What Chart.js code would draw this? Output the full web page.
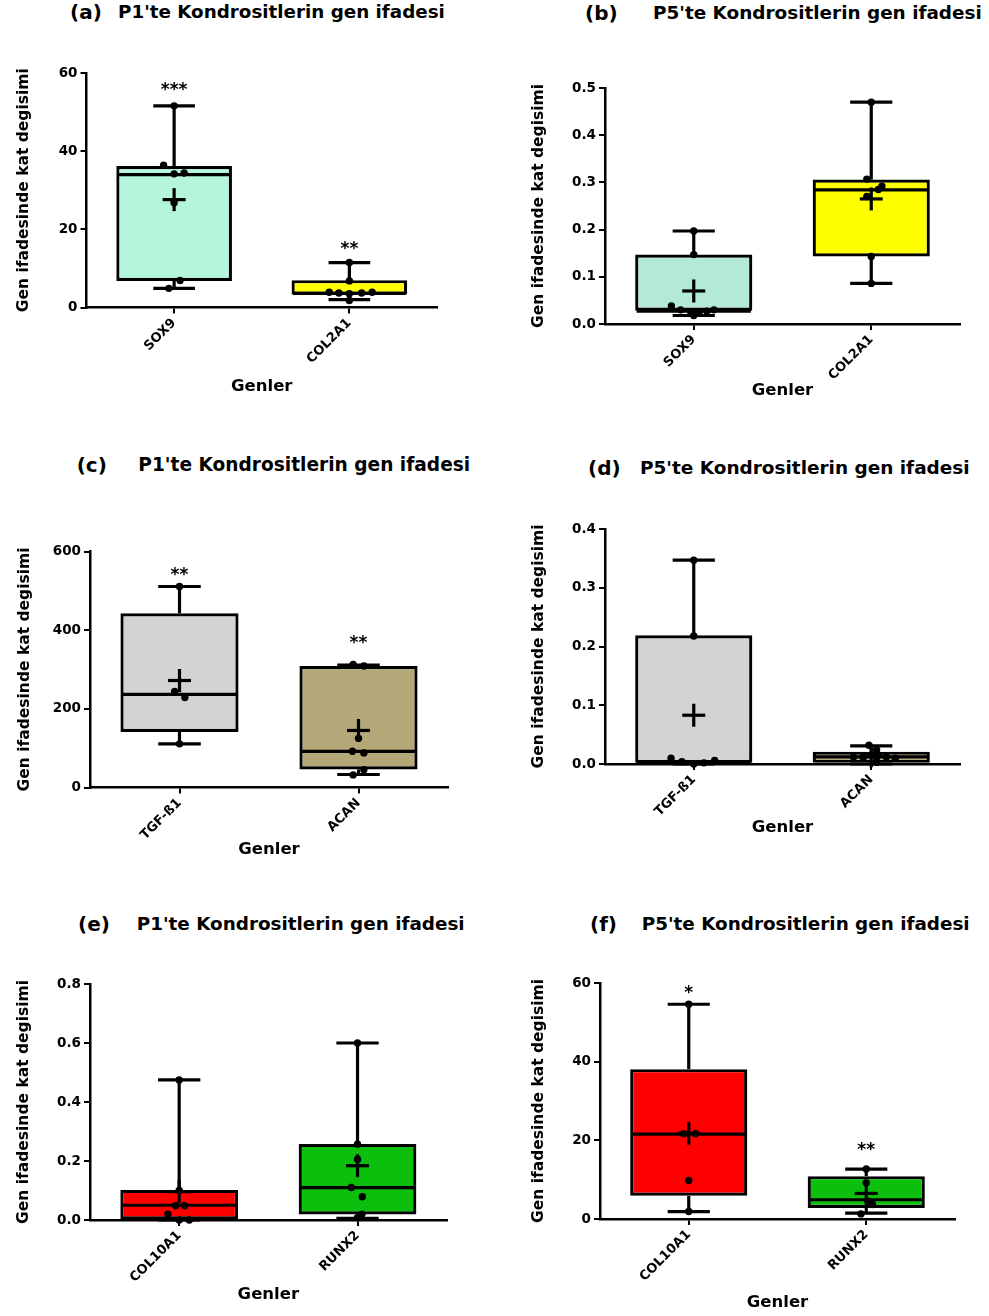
<!DOCTYPE html>
<html><head><meta charset="utf-8">
<script src="https://cdn.jsdelivr.net/npm/chart.js@4.4.1/dist/chart.umd.min.js"></script>
<style>
html,body{margin:0;padding:0;background:#fff;}
body{width:989px;height:1316px;position:relative;overflow:hidden;font-family:'DejaVu Sans',sans-serif;font-weight:bold;color:#000;}
.panel{position:absolute;}
.ttl{position:absolute;white-space:nowrap;line-height:24px;height:24px;font-weight:bold;font-family:'DejaVu Sans',sans-serif;}
</style></head><body>
<script>
// ---------------- DATA ----------------
const genesA = ['SOX9', 'COL2A1'];
const minA = [4.9, 2.0];
const q1A = [6.8, 3.3];
const medianA = [34.0, 3.6];
const q3A = [36.2, 7.0];
const maxA = [51.6, 11.5];
const meanA = [27.6, null];
const ptsA_SOX9 = [51.6, 36.4, 34.2, 34.4, 26.8, 6.9, 4.9];
const ptsA_COL2A1 = [11.5, 6.8, 3.9, 3.7, 3.5, 3.7, 3.9, 1.8];
const starsA = ['***', '**'];

const genesB = ['SOX9', 'COL2A1'];
const minB = [0.018, 0.086];
const q1B = [0.028, 0.143];
const medianB = [0.027, 0.284];
const q3B = [0.147, 0.306];
const maxB = [0.197, 0.47];
const meanB = [0.07, 0.265];
const ptsB_SOX9 = [0.197, 0.147, 0.038, 0.030, 0.026, 0.024, 0.027, 0.030, 0.018];
const ptsB_COL2A1 = [0.47, 0.307, 0.292, 0.285, 0.27, 0.143, 0.086];
const starsB = ['', ''];

const genesC = ['TGF-ß1', 'ACAN'];
const minC = [111, 33];
const q1C = [141, 46];
const medianC = [237, 92];
const q3C = [443, 309];
const maxC = [511, 311];
const meanC = [272, 145];
const ptsC_TGF = [511, 244, 229, 111];
const ptsC_ACAN = [313, 309, 125, 92, 88, 45, 32];
const starsC = ['**', '**'];

const genesD = ['TGF-ß1', 'ACAN'];
const minD = [0, 0];
const q1D = [0.002, 0.002];
const medianD = [0.004, 0.012];
const q3D = [0.219, 0.021];
const maxD = [0.347, 0.031];
const meanD = [0.083, 0.014];
const ptsD_TGF = [0.347, 0.218, 0.01, 0.004, 0.0, 0.002, 0.006];
const ptsD_ACAN = [0.032, 0.024, 0.012, 0.011, 0.011, 0.012, 0.010, 0.003];
const starsD = ['', ''];

const genesE = ['COL10A1', 'RUNX2'];
const minE = [0, 0.006];
const q1E = [0.002, 0.019];
const medianE = [0.05, 0.11];
const q3E = [0.102, 0.258];
const maxE = [0.475, 0.6];
const meanE = [0.096, 0.184];
const ptsE_COL10A1 = [0.475, 0.1, 0.0485, 0.0485, 0.02, 0.0, 0.0];
const ptsE_RUNX2 = [0.6, 0.257, 0.206, 0.11, 0.079, 0.02, 0.008];
const starsE = ['', ''];

const genesF = ['COL10A1', 'RUNX2'];
const minF = [1.9, 1.5];
const q1F = [5.9, 2.8];
const medianF = [21.6, 4.9];
const q3F = [38.1, 10.9];
const maxF = [54.6, 12.7];
const meanF = [21.8, 6.5];
const ptsF_COL10A1 = [54.6, 21.7, 21.7, 9.8, 1.9];
const ptsF_RUNX2 = [12.7, 9.2, 4.5, 3.7, 1.3];
const starsF = ['*', '**'];

// y-axis tick ranges
const yTicksA = {max: 60, step: 20, dec: 0};
const yTicksB = {max: 0.5, step: 0.1, dec: 1};
const yTicksC = {max: 600, step: 200, dec: 0};
const yTicksD = {max: 0.4, step: 0.1, dec: 1};
const yTicksE = {max: 0.8, step: 0.2, dec: 1};
const yTicksF = {max: 60, step: 20, dec: 0};

const titleLetters = ['(a)', '(b)', '(c)', '(d)', '(e)', '(f)'];
const titleTexts = ["P1'te Kondrositlerin gen ifadesi", "P5'te Kondrositlerin gen ifadesi",
  "P1'te Kondrositlerin gen ifadesi", "P5'te Kondrositlerin gen ifadesi",
  "P1'te Kondrositlerin gen ifadesi", "P5'te Kondrositlerin gen ifadesi"];
const yAxisTitle = 'Gen ifadesinde kat degisimi';
const xAxisTitle = 'Genler';

// ---------------- LAYOUT / STYLE ----------------
const jitterA = [[0, -0.06, 0, 0.057, 0, 0.034, -0.03], [0, 0, -0.115, -0.06, 0, 0.07, 0.13, 0]];
const jitterB = [[0, 0, -0.126, -0.074, -0.017, 0.03, 0.074, 0.114, 0], [0, -0.025, 0.06, 0.04, -0.025, 0, 0]];
const jitterC = [[0, -0.027, 0.03, 0], [-0.03, 0.03, 0, -0.034, 0.03, 0.03, -0.03]];
const jitterD = [[0, 0, -0.128, -0.067, 0, 0.057, 0.118], [-0.013, 0.03, -0.1, -0.045, 0.03, 0.085, 0.135, 0.03]];
const jitterE = [[0, 0, -0.02, 0.03, -0.063, 0, 0.057], [0, 0, 0, -0.035, 0.027, 0.025, 0]];
const jitterF = [[0, -0.028, 0.038, 0, 0], [0, 0, 0.01, 0.035, -0.03]];
const starAtA = [56.9, 16.2], starAtB = [0, 0], starAtC = [553, 381], starAtD = [0, 0], starAtE = [0, 0], starAtF = [58.7, 18.8];

const colorsA = ['#b4f5dc', '#ffff00'];
const colorsB = ['#b3e9d5', '#ffff00'];
const colorsC = ['#d3d3d3', '#b4a878'];
const colorsD = ['#d3d3d3', '#b4a878'];
const colorsE = ['#ff0000', '#0cbf0c'];
const colorsF = ['#ff0000', '#0cbf0c'];

const layouts = [
  {L:0,   W:490, T:30,  axX:86.5, axR:437, yTop:73,    yBot:307.5, yTitleX:24,   xTitleY:387,    tcy:12,   lx:70,   tx:118,   tw:327},
  {L:490, W:499, T:30,  axX:605,  axR:960, yTop:88,    yBot:324,   yTitleX:539,  xTitleY:391,    tcy:12.5, lx:585,  tx:653,   tw:329},
  {L:0,   W:490, T:485, axX:90,   axR:448, yTop:551.5, yBot:787.5, yTitleX:24.5, xTitleY:850,    tcy:465,  lx:76.7, tx:138.3, tw:332},
  {L:490, W:499, T:485, axX:605,  axR:960, yTop:529,   yBot:764,   yTitleX:539,  xTitleY:828.5,  tcy:468,  lx:588,  tx:640,   tw:330},
  {L:0,   W:490, T:945, axX:90,   axR:446.7, yTop:984, yBot:1220,  yTitleX:24,   xTitleY:1295,   tcy:924,  lx:78,   tx:136.7, tw:328},
  {L:490, W:499, T:945, axX:600,  axR:955, yTop:983,   yBot:1219,  yTitleX:539,  xTitleY:1303.5, tcy:924,  lx:590,  tx:641.7, tw:328}
];

const panels = [
  {genes:genesA, min:minA, q1:q1A, median:medianA, q3:q3A, max:maxA, mean:meanA, pts:[ptsA_SOX9, ptsA_COL2A1], stars:starsA, yt:yTicksA, jit:jitterA, starAt:starAtA, colors:colorsA},
  {genes:genesB, min:minB, q1:q1B, median:medianB, q3:q3B, max:maxB, mean:meanB, pts:[ptsB_SOX9, ptsB_COL2A1], stars:starsB, yt:yTicksB, jit:jitterB, starAt:starAtB, colors:colorsB},
  {genes:genesC, min:minC, q1:q1C, median:medianC, q3:q3C, max:maxC, mean:meanC, pts:[ptsC_TGF, ptsC_ACAN], stars:starsC, yt:yTicksC, jit:jitterC, starAt:starAtC, colors:colorsC},
  {genes:genesD, min:minD, q1:q1D, median:medianD, q3:q3D, max:maxD, mean:meanD, pts:[ptsD_TGF, ptsD_ACAN], stars:starsD, yt:yTicksD, jit:jitterD, starAt:starAtD, colors:colorsD},
  {genes:genesE, min:minE, q1:q1E, median:medianE, q3:q3E, max:maxE, mean:meanE, pts:[ptsE_COL10A1, ptsE_RUNX2], stars:starsE, yt:yTicksE, jit:jitterE, starAt:starAtE, colors:colorsE},
  {genes:genesF, min:minF, q1:q1F, median:medianF, q3:q3F, max:maxF, mean:meanF, pts:[ptsF_COL10A1, ptsF_RUNX2], stars:starsF, yt:yTicksF, jit:jitterF, starAt:starAtF, colors:colorsF}
];

Chart.defaults.font.family = "'DejaVu Sans', sans-serif";
Chart.defaults.font.weight = 'bold';
Chart.defaults.color = '#000';

const mctx = document.createElement('canvas').getContext('2d');
function fitSize(text, base, target) {
  mctx.font = 'bold ' + base + "px 'DejaVu Sans'";
  return base * target / mctx.measureText(text).width;
}

function boxExtras(d) {
  return {
    id: 'boxExtras',
    afterDatasetDraw(chart, args) {
      if (args.index !== 0) return;
      const ctx = chart.ctx, ys = chart.scales.y;
      const bars = chart.getDatasetMeta(0).data;
      const p = v => ys.getPixelForValue(v);
      ctx.save();
      ctx.strokeStyle = '#000'; ctx.lineWidth = 3.2; ctx.lineCap = 'butt';
      const seg = (x1, y1, x2, y2) => { ctx.beginPath(); ctx.moveTo(x1, y1); ctx.lineTo(x2, y2); ctx.stroke(); };
      bars.forEach((bar, i) => {
        const cx = bar.x, hw = bar.width / 2, cw = bar.width * 0.18;
        seg(cx, p(d.q3[i]), cx, p(d.max[i]));
        seg(cx - cw, p(d.max[i]), cx + cw, p(d.max[i]));
        seg(cx, p(d.q1[i]), cx, p(d.min[i]));
        seg(cx - cw, p(d.min[i]), cx + cw, p(d.min[i]));
        seg(cx - hw + 1.5, p(d.median[i]), cx + hw - 1.5, p(d.median[i]));
        if (d.mean[i] != null) {
          const m = p(d.mean[i]);
          seg(cx - 11.5, m, cx + 11.5, m);
          seg(cx, m - 11.5, cx, m + 11.5);
        }
      });
      ctx.restore();
    },
    afterDraw(chart) {
      const ctx = chart.ctx, xs = chart.scales.x, ys = chart.scales.y;
      ctx.save();
      ctx.fillStyle = '#000';
      ctx.font = "bold 17px 'DejaVu Sans'";
      ctx.textAlign = 'center';
      ctx.textBaseline = 'alphabetic';
      d.stars.forEach((s, i) => {
        if (!s) return;
        ctx.fillText(s, xs.getPixelForValue(i), ys.getPixelForValue(d.starAt[i]) + 10);
      });
      ctx.restore();
    }
  };
}

function makePanel(lay, d, idx) {
  const lab = document.createElement('div');
  lab.className = 'ttl';
  lab.textContent = titleLetters[idx];
  lab.style.left = lay.lx + 'px';
  lab.style.top = (lay.tcy - 12) + 'px';
  lab.style.fontSize = '20px';
  document.body.appendChild(lab);
  const tt = document.createElement('div');
  tt.className = 'ttl';
  tt.textContent = titleTexts[idx];
  tt.style.left = lay.tx + 'px';
  tt.style.top = (lay.tcy - 12) + 'px';
  tt.style.fontSize = fitSize(titleTexts[idx], 18, lay.tw).toFixed(2) + 'px';
  document.body.appendChild(tt);

  const xFont = 16.5, yFont = 15.5;
  const H = Math.round(lay.xTitleY + xFont * 1.2 / 2 - lay.T);
  const wrap = document.createElement('div');
  wrap.className = 'panel';
  wrap.style.left = lay.L + 'px';
  wrap.style.top = lay.T + 'px';
  wrap.style.width = lay.W + 'px';
  wrap.style.height = H + 'px';
  const canvas = document.createElement('canvas');
  canvas.width = lay.W; canvas.height = H;
  canvas.style.width = lay.W + 'px'; canvas.style.height = H + 'px';
  wrap.appendChild(canvas);
  document.body.appendChild(wrap);

  const pl = lay.yTitleX - yFont * 1.2 / 2 - lay.L;
  const yW = lay.axX - lay.L - pl;
  const xH = H - (lay.yBot - lay.T);

  const points = [];
  d.pts.forEach((arr, i) => arr.forEach((v, k) => points.push({x: i + d.jit[i][k], y: v})));

  new Chart(canvas, {
    type: 'bar',
    data: {
      labels: d.genes,
      datasets: [
        {type: 'bar', data: d.q1.map((v, i) => [v, d.q3[i]]), backgroundColor: d.colors,
         borderColor: '#000', borderWidth: 3.2, borderSkipped: false, grouped: false,
         barPercentage: 0.66, categoryPercentage: 1, order: 2},
        {type: 'scatter', xAxisID: 'xj', yAxisID: 'y', data: points, pointRadius: 3.7,
         pointBackgroundColor: '#000', pointBorderWidth: 0, clip: false, order: 1}
      ]
    },
    options: {
      responsive: false, animation: false, events: [],
      layout: {padding: {left: pl, right: lay.L + lay.W - lay.axR, top: lay.yTop - lay.T, bottom: 0}},
      plugins: {legend: {display: false}, tooltip: {enabled: false}},
      scales: {
        x: {
          type: 'category', position: 'bottom', offset: true,
          grid: {display: true, drawOnChartArea: false, offset: false, color: '#000', lineWidth: 2, tickLength: 6},
          border: {display: true, color: '#000', width: 2.5},
          ticks: {color: '#000', font: {size: 13, weight: 'bold'}, minRotation: 45, maxRotation: 45, autoSkip: false, padding: 2},
          title: {display: true, text: xAxisTitle, font: {size: xFont, weight: 'bold'}, color: '#000', padding: 0},
          afterFit: s => { s.height = xH; }
        },
        xj: {type: 'linear', display: false, offset: false, min: -0.5, max: 1.5, position: 'top', grid: {offset: false}},
        y: {
          type: 'linear', position: 'left', min: 0, max: d.yt.max,
          ticks: {stepSize: d.yt.step, color: '#000', font: {size: 13.5, weight: 'bold'}, padding: 3,
                  callback: v => d.yt.dec ? Number(v).toFixed(d.yt.dec) : String(Math.round(v))},
          grid: {display: true, drawOnChartArea: false, color: '#000', lineWidth: 2, tickLength: 6},
          border: {display: true, color: '#000', width: 2.5},
          title: {display: true, text: yAxisTitle, font: {size: yFont, weight: 'bold'}, color: '#000', padding: 0},
          afterFit: s => { s.width = yW; }
        }
      }
    },
    plugins: [boxExtras(d)]
  });
}

layouts.forEach((lay, i) => makePanel(lay, panels[i], i));
</script>
</body></html>
